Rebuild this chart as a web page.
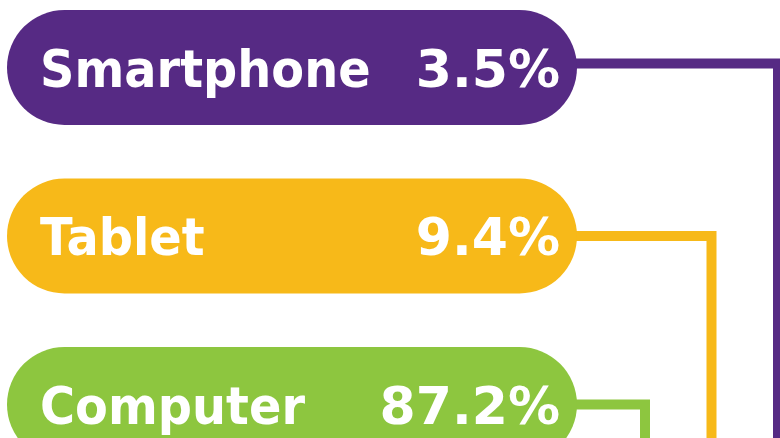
<!DOCTYPE html>
<html>
<head>
<meta charset="utf-8">
<script src="https://cdn.jsdelivr.net/npm/d3@7"></script>
<style>
  html, body { margin: 0; padding: 0; background: #fff; overflow: hidden; }
  .label { font-family: "DejaVu Sans", Verdana, sans-serif; font-weight: bold; fill: #fff; }
</style>
</head>
<body>
<div id="chart"></div>
<script>
// devices and their share
var devices = ['Smartphone', 'Tablet', 'Computer'];
var shares = [3.5, 9.4, 87.2];
var colors = ['#562a84', '#f7b919', '#8dc63f'];

var width = 780,
  height = 438;

var pill = { left: 7, width: 570, height: 115 };

var svg = d3
  .select('#chart')
  .append('svg')
  .attr('width', width)
  .attr('height', height);

// rows, one band per device
var yScale = d3
  .scaleBand()
  .domain(devices)
  .range([10, 10 + 168.5 * devices.length])
  .paddingInner(0);

// x of the vertical drop of each connector (last row closest)
var dropScale = d3
  .scaleLinear()
  .domain([devices.length - 1, 0])
  .range([645, 778]);

function cy(d) {
  return yScale(d) + pill.height / 2;
}

// connectors go under the pills
svg
  .selectAll('path.connector')
  .data(devices)
  .enter()
  .append('path')
  .attr('class', 'connector')
  .attr('fill', 'none')
  .attr('stroke', function(d, i) {
    return colors[i];
  })
  .attr('stroke-width', 10)
  .attr('d', function(d, i) {
    var x0 = pill.left + pill.width - 30,
      x1 = dropScale(i),
      y = cy(d) - (i === 0 ? 4 : 0);
    return 'M' + x0 + ',' + y + 'H' + x1 + 'V' + (height + 20);
  });

var rows = svg
  .selectAll('g.row')
  .data(devices)
  .enter()
  .append('g')
  .attr('class', 'row');

rows
  .append('rect')
  .attr('x', pill.left)
  .attr('y', function(d) {
    return yScale(d);
  })
  .attr('width', pill.width)
  .attr('height', pill.height)
  .attr('rx', pill.height / 2)
  .attr('ry', pill.height / 2)
  .attr('fill', function(d, i) {
    return colors[i];
  });

rows
  .append('text')
  .attr('class', 'label')
  .attr('transform', function(d) {
    return 'translate(40,' + (cy(d) + 19) + ') scale(0.92,1)';
  })
  .style('font-size', '52px')
  .text(function(d) {
    return d;
  });

rows
  .append('text')
  .attr('class', 'label')
  .attr('x', 560)
  .attr('y', function(d) {
    return cy(d) + 19;
  })
  .style('font-size', '52px')
  .style('text-anchor', 'end')
  .text(function(d, i) {
    return shares[i].toFixed(1) + '%';
  });
</script>
</body>
</html>
